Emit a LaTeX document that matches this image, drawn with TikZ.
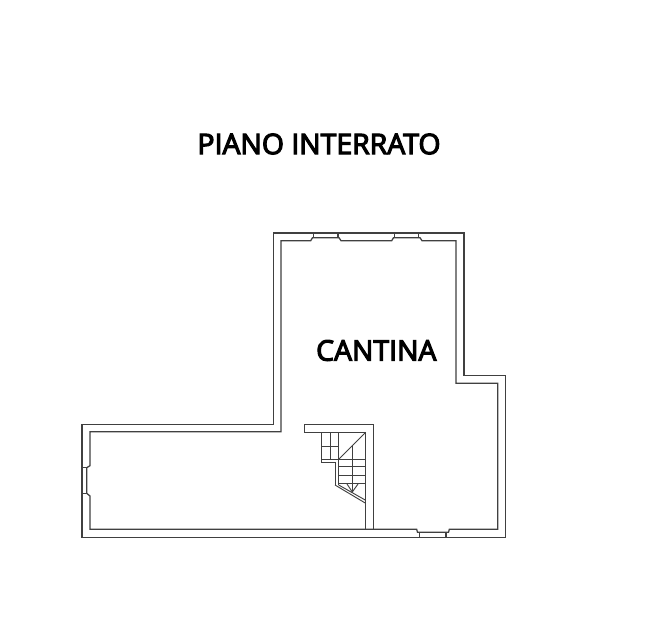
\documentclass[tikz,border=0pt]{standalone}
\usepackage{fontspec}
\setmainfont{Open Sans}
\newfontfamily\titlefont[FakeBold=4]{Open Sans}
\usepackage{tikz}
\usetikzlibrary{calc,positioning}
\definecolor{muro}{HTML}{404040}

\begin{document}
\begin{tikzpicture}
[x=.75pt,y=-.75pt,>=stealth,wall/.style={draw=muro,line width=.95pt,line join=miter},
tread/.style={draw=muro,line width=.7pt},
title/.style={font=\titlefont\fontsize{21.3}{23}\selectfont,text=black,inner sep=0pt}]

\useasboundingbox (0,0) rectangle (650,617);
\fill[white] (0,0) rectangle (650,617);

%Wall lines
\def\ot{233}
\def\it{240.7}
\def\ob{537.3}
\def\ib{529.3}

%Outer wall
\draw[wall] (82,424.3) -- (273.5,424.3) -- (273.5,\ot) -- (464,\ot) -- (464,375.7) -- (505.7,375.7) -- (505.7,\ob) -- (82,\ob) -- cycle;

%Inner wall with window recesses
\draw[wall] (90,431.7) -- (281,431.7) -- (281,\it) -- (310.7,\it) -- (312.5,237.7) -- (339,237.7) -- (341,\it)
 -- (391.7,\it) -- (393.5,237.7) -- (420,237.7) -- (422,\it) -- (456,\it) -- (456,383.3) -- (497.7,383.3)
 -- (497.7,\ib) -- (449.3,\ib) -- (448.5,532.3) -- (417.5,532.3) -- (416.7,\ib) -- (90,\ib) -- (90,496)
 -- (86.7,493.3) -- (86.7,467.7) -- (90,465.7) -- cycle;

%Window jambs
\draw[wall] (313.5,\ot) -- (313.5,237.7) (338,\ot) -- (338,237.7);
\draw[wall] (394.5,\ot) -- (394.5,237.7) (418.5,\ot) -- (418.5,237.7);
\draw[wall] (419.3,532.3) -- (419.3,\ob) (446,532.3) -- (446,\ob);
\draw[wall] (82,467.7) -- (86.7,467.7) (82,493.3) -- (86.7,493.3);

%Partition by the stairs
\draw[wall] (373.3,\ib) -- (373.3,424.3) -- (304.3,424.3) -- (304.3,432.3) -- (365.7,432.3) -- (365.7,\ib);

%Upper flight
\draw[tread] (321.7,432.3) -- (321.7,462.3) -- (335,462.3) -- (335,485);
\draw[tread] (330,432.3) -- (330,459.3);
\draw[tread] (338.7,432.3) -- (338.7,485);
\draw[tread] (321.7,446) -- (338.7,446);
\draw[tread] (321.7,459.3) -- (365.7,459.3);
\draw[tread] (338.7,459.3) -- (365.7,432.3);

%Lower flight
\draw[tread] (352.3,446) -- (352.3,492);
\foreach \y in {466.7,475,483.3}
  \draw[tread] (338.7,\y) -- (365.7,\y);
\draw[tread] (335,485) -- (365.7,503.3);
\draw[tread] (338.7,485) -- (365.7,500.3);
\draw[tread] (347,484) -- (352.3,492) -- (358,484);

%Labels
\node[title] (piano) at (319,144) {PIANO INTERRATO};
\node[title] (cantina) at (376.3,350.5) {CANTINA};

\end{tikzpicture}
\end{document}
